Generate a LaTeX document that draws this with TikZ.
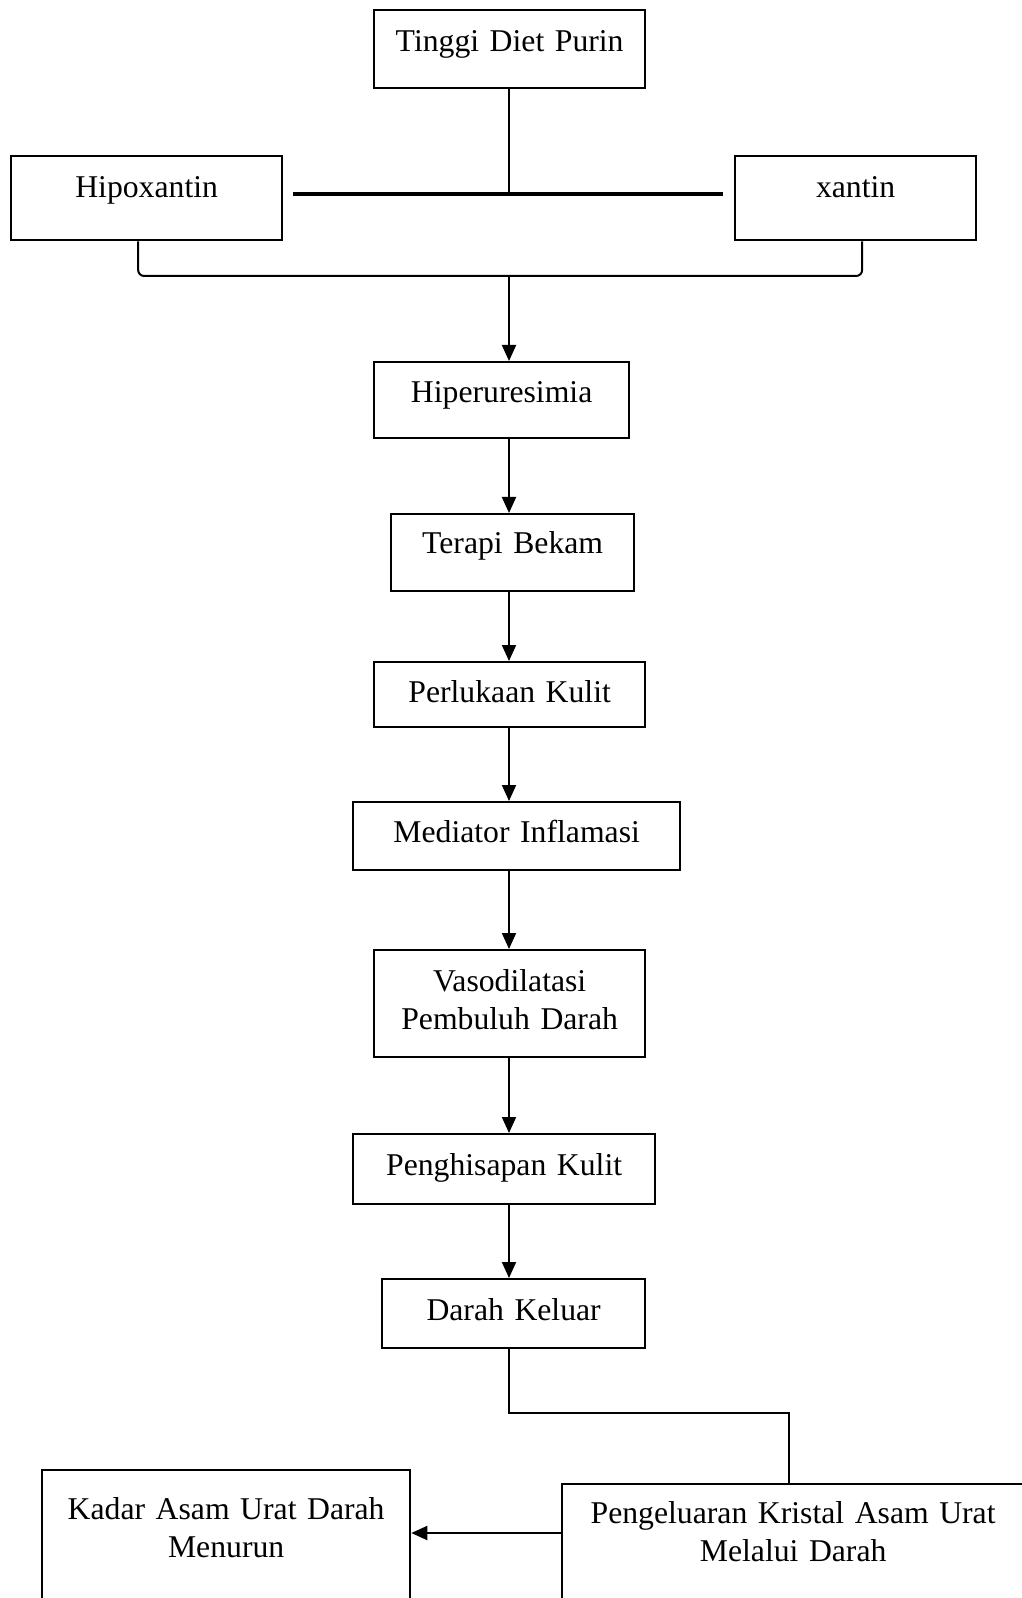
\documentclass[tikz,border=0pt]{standalone}
\usepackage{fontspec}
\setmainfont{Liberation Serif}
\usetikzlibrary{arrows.meta}

\begin{document}
\begin{tikzpicture}[x=0.5pt,y=-0.5pt,line width=1pt,
    box/.style={draw,line width=1.15pt,anchor=north west,align=center,inner sep=0pt,
      font=\fontsize{15.85}{19.2}\selectfont},
    arr/.style={-{Triangle[length=8pt,width=7pt]}}]
        \useasboundingbox (0,0) rectangle (1021,1598);
        \node[box,text width=135.5pt,text height=20.5pt,text depth=18.5pt] (tinggi) at (373,9) {Tinggi Diet Purin};
        \node[box,text width=135.5pt,text height=20.5pt,text depth=21.5pt] (hipo) at (10,155) {Hipoxantin};
        \node[box,text width=120.5pt,text height=20.5pt,text depth=21.5pt] (xantin) at (734,155) {xantin};
        \node[box,text width=127.5pt,text height=20pt,text depth=18pt] (hiper) at (373,361) {Hiperuresimia};
        \node[box,text width=121.5pt,text height=19.5pt,text depth=19pt] (terapi) at (390,513) {Terapi Bekam};
        \node[box,text width=135.5pt,text height=20pt,text depth=12.5pt] (luka) at (373,661) {Perlukaan Kulit};
        \node[box,text width=163.5pt,text height=20pt,text depth=14pt] (mediator) at (352,801) {Mediator Inflamasi};
        \node[box,text width=135.5pt,text height=20.5pt,text depth=33pt] (vaso) at (373,949) {Vasodilatasi\\Pembuluh Darah};
        \node[box,text width=151pt,text height=20.5pt,text depth=14.5pt] (hisap) at (352,1133) {Penghisapan Kulit};
        \node[box,text width=131.5pt,text height=20.5pt,text depth=14pt] (darah) at (381,1278) {Darah Keluar};
        \node[box,text width=184pt,text height=24.5pt,text depth=50pt] (kadar) at (41,1469) {Kadar Asam Urat Darah\\Menurun};
        \node[box,text width=231pt,text height=19.5pt,text depth=50pt] (keluar) at (561,1483) {Pengeluaran Kristal Asam Urat\\Melalui Darah};
        \coordinate (hub) at (509,194);
        \coordinate (hubl) at (293,194);
        \coordinate (hubr) at (723,194);
        \coordinate (join) at (509,276);
        \coordinate (bend) at (789,1413);
        \coordinate (lvl) at (0,1533);
        \draw (tinggi.south -| hub) -- (hub);
        \draw[line width=1.6pt] (hubl) -- (hubr);
        \draw[rounded corners=3pt] ([xshift=-4.25pt]hipo.south) |- (join) -| ([xshift=3.25pt]xantin.south);
        \draw[arr] (join) -- (join |- hiper.north);
        \draw[arr] (hiper.south -| hub) -- (terapi.north -| hub);
        \draw[arr] (terapi.south -| hub) -- (luka.north -| hub);
        \draw[arr] (luka.south -| hub) -- (mediator.north -| hub);
        \draw[arr] (mediator.south -| hub) -- (vaso.north -| hub);
        \draw[arr] (vaso.south -| hub) -- (hisap.north -| hub);
        \draw[arr] (hisap.south -| hub) -- (darah.north -| hub);
        \draw (darah.south -| hub) |- (bend) -- (bend |- keluar.north);
        \draw[arr] (keluar.west |- lvl) -- (kadar.east |- lvl);
    \end{tikzpicture}
\end{document}
